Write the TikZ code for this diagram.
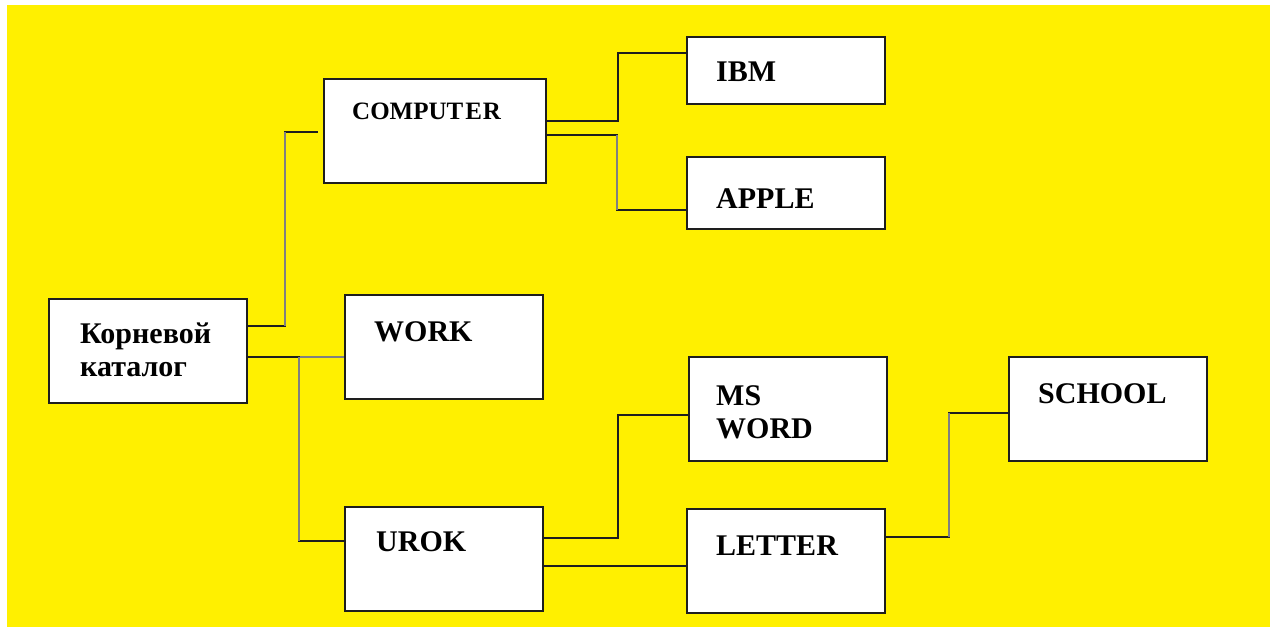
\documentclass[tikz,border=0pt]{standalone}
\usepackage{fontspec}
\setmainfont{Liberation Serif}
\usetikzlibrary{calc}
\definecolor{bgyellow}{RGB}{255,240,0}
\definecolor{linedark}{RGB}{30,30,30}
\definecolor{linegrey}{RGB}{128,128,128}
\tikzset{
  folder/.style={draw=linedark, line width=2.2pt, fill=white, inner sep=0pt, anchor=north west, minimum width=198pt, minimum height=104pt},
  label/.style={inner sep=0pt, anchor=base west, align=left, font=\bfseries\fontsize{30}{33}\selectfont},
  conn/.style={draw=linedark, line width=2.2pt},
  vconn/.style={draw=linegrey, line width=2.2pt},
}
\begin{document}
\begin{tikzpicture}[x=1pt, y=-1pt]
  \useasboundingbox (0,0) rectangle (1277,629);
  \fill[white] (0,0) rectangle (1277,629);
  \fill[bgyellow] (7,5) rectangle (1270,627);

  % directory boxes
  \node[folder] (root)   at (48,298) {};
  \node[folder, minimum width=222pt] (comp) at (323,78) {};
  \node[folder, minimum height=67pt] (ibm)   at (686,36) {};
  \node[folder, minimum height=72pt] (apple) at (686,156) {};
  \node[folder] (work)   at (344,294) {};
  \node[folder] (msword) at (688,356) {};
  \node[folder] (school) at (1008,356) {};
  \node[folder] (urok)   at (344,506) {};
  \node[folder] (letter) at (686,508) {};

  % names (two-line labels are placed by their last baseline)
  \node[label] (roottxt) at (80,376) {Корневой\\каталог};
  \node[label, font=\bfseries\fontsize{25}{30}\selectfont] (comptxt) at (352,119) {COMPUT\kern2pt E\kern1pt R};
  \node[label] (ibmtxt)    at (716,81)  {IBM};
  \node[label] (appletxt)  at (716,208) {APPLE};
  \node[label] (worktxt)   at (374,341) {WORK};
  \node[label] (mswtxt)    at (716,438) {MS\\WORD};
  \node[label] (schooltxt) at (1038,403) {SCHOOL};
  \node[label] (uroktxt)   at (376,551) {UROK};
  \node[label] (lettertxt) at (716,555) {LETTER};

  % connector end points on the boxes
  \coordinate (rootA) at ([yshift=25pt]root.east);
  \coordinate (rootB) at ([yshift=-6pt]root.east);
  \coordinate (compIn) at ([xshift=-5pt,yshift=-1pt]comp.west);
  \coordinate (compA) at ([yshift=10pt]comp.east);
  \coordinate (compB) at ([yshift=-4pt]comp.east);
  \coordinate (ibmIn) at ([yshift=17.5pt]ibm.west);
  \coordinate (appleIn) at ([yshift=-17pt]apple.west);
  \coordinate (urokIn) at ([yshift=18pt]urok.west);
  \coordinate (urokA) at ([yshift=21pt]urok.east);
  \coordinate (urokB) at ([yshift=-7pt]urok.east);
  \coordinate (mswIn) at ([yshift=-6pt]msword.west);
  \coordinate (letterA) at ([yshift=24pt]letter.east);
  \coordinate (schoolIn) at ([yshift=-4pt]school.west);

  % root -> WORK and root -> UROK
  \draw[vconn] (rootB) -- (rootB -| work.west);
  \draw[conn] (rootB) -- ++(51,0) coordinate (j2) |- (urokIn);
  \draw[vconn] (j2) -- (j2 |- urokIn);

  % root -> COMPUTER
  \draw[conn] (rootA) -- ++(37,0) coordinate (j1) |- (compIn);
  \draw[vconn] (j1) -- (j1 |- compIn);

  % COMPUTER -> IBM, APPLE
  \draw[conn] (compA) -- ++(71,0) |- (ibmIn);
  \draw[conn] (compB) -- ++(70,0) coordinate (j3) |- (appleIn);
  \draw[vconn] (j3) -- (j3 |- appleIn);

  % UROK -> MS WORD, LETTER
  \draw[conn] (urokA) -- ++(74,0) |- (mswIn);
  \draw[conn] (urokB) -- (urokB -| letter.west);

  % LETTER -> SCHOOL
  \draw[conn] (letterA) -- ++(63,0) coordinate (j4) |- (schoolIn);
  \draw[vconn] (j4) -- (j4 |- schoolIn);
\end{tikzpicture}
\end{document}
